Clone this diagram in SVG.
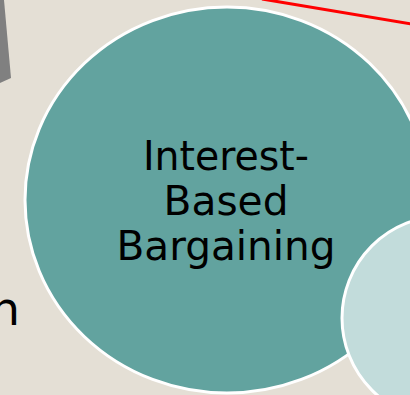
<svg xmlns="http://www.w3.org/2000/svg" width="410" height="395" viewBox="0 0 410 395">
<style>
.bg{fill:#e4dfd5}
.node{stroke:#ffffff;stroke-width:3}
.lbl{font-family:"DejaVu Sans","Liberation Sans",sans-serif;font-size:40px;fill:#000000;text-anchor:middle}
</style>
<rect class="bg" x="0" y="0" width="410" height="395"/>
<g id="gray-shape">
<polygon points="0,0 4,0 11,78 0,83" fill="#808080"/>
</g>
<g id="connectors">
<line x1="262" y1="-1" x2="412" y2="24" stroke="#ff0000" stroke-width="3"/>
</g>
<g id="left-text">
<text class="lbl" x="20" y="325" style="text-anchor:end;font-size:47px">n</text>
</g>
<g id="node-interest-based">
<ellipse class="node" cx="227" cy="200" rx="202" ry="193" fill="#62a39f"/>
<text class="lbl" x="226" y="170" textLength="166" lengthAdjust="spacingAndGlyphs">Interest-</text>
<text class="lbl" x="226" y="215" textLength="125" lengthAdjust="spacingAndGlyphs">Based</text>
<text class="lbl" x="226" y="260" textLength="219" lengthAdjust="spacingAndGlyphs">Bargaining</text>
</g>
<g id="node-light">
<circle class="node" cx="444" cy="318" r="102" fill="#c2dcdb"/>
</g>
</svg>
